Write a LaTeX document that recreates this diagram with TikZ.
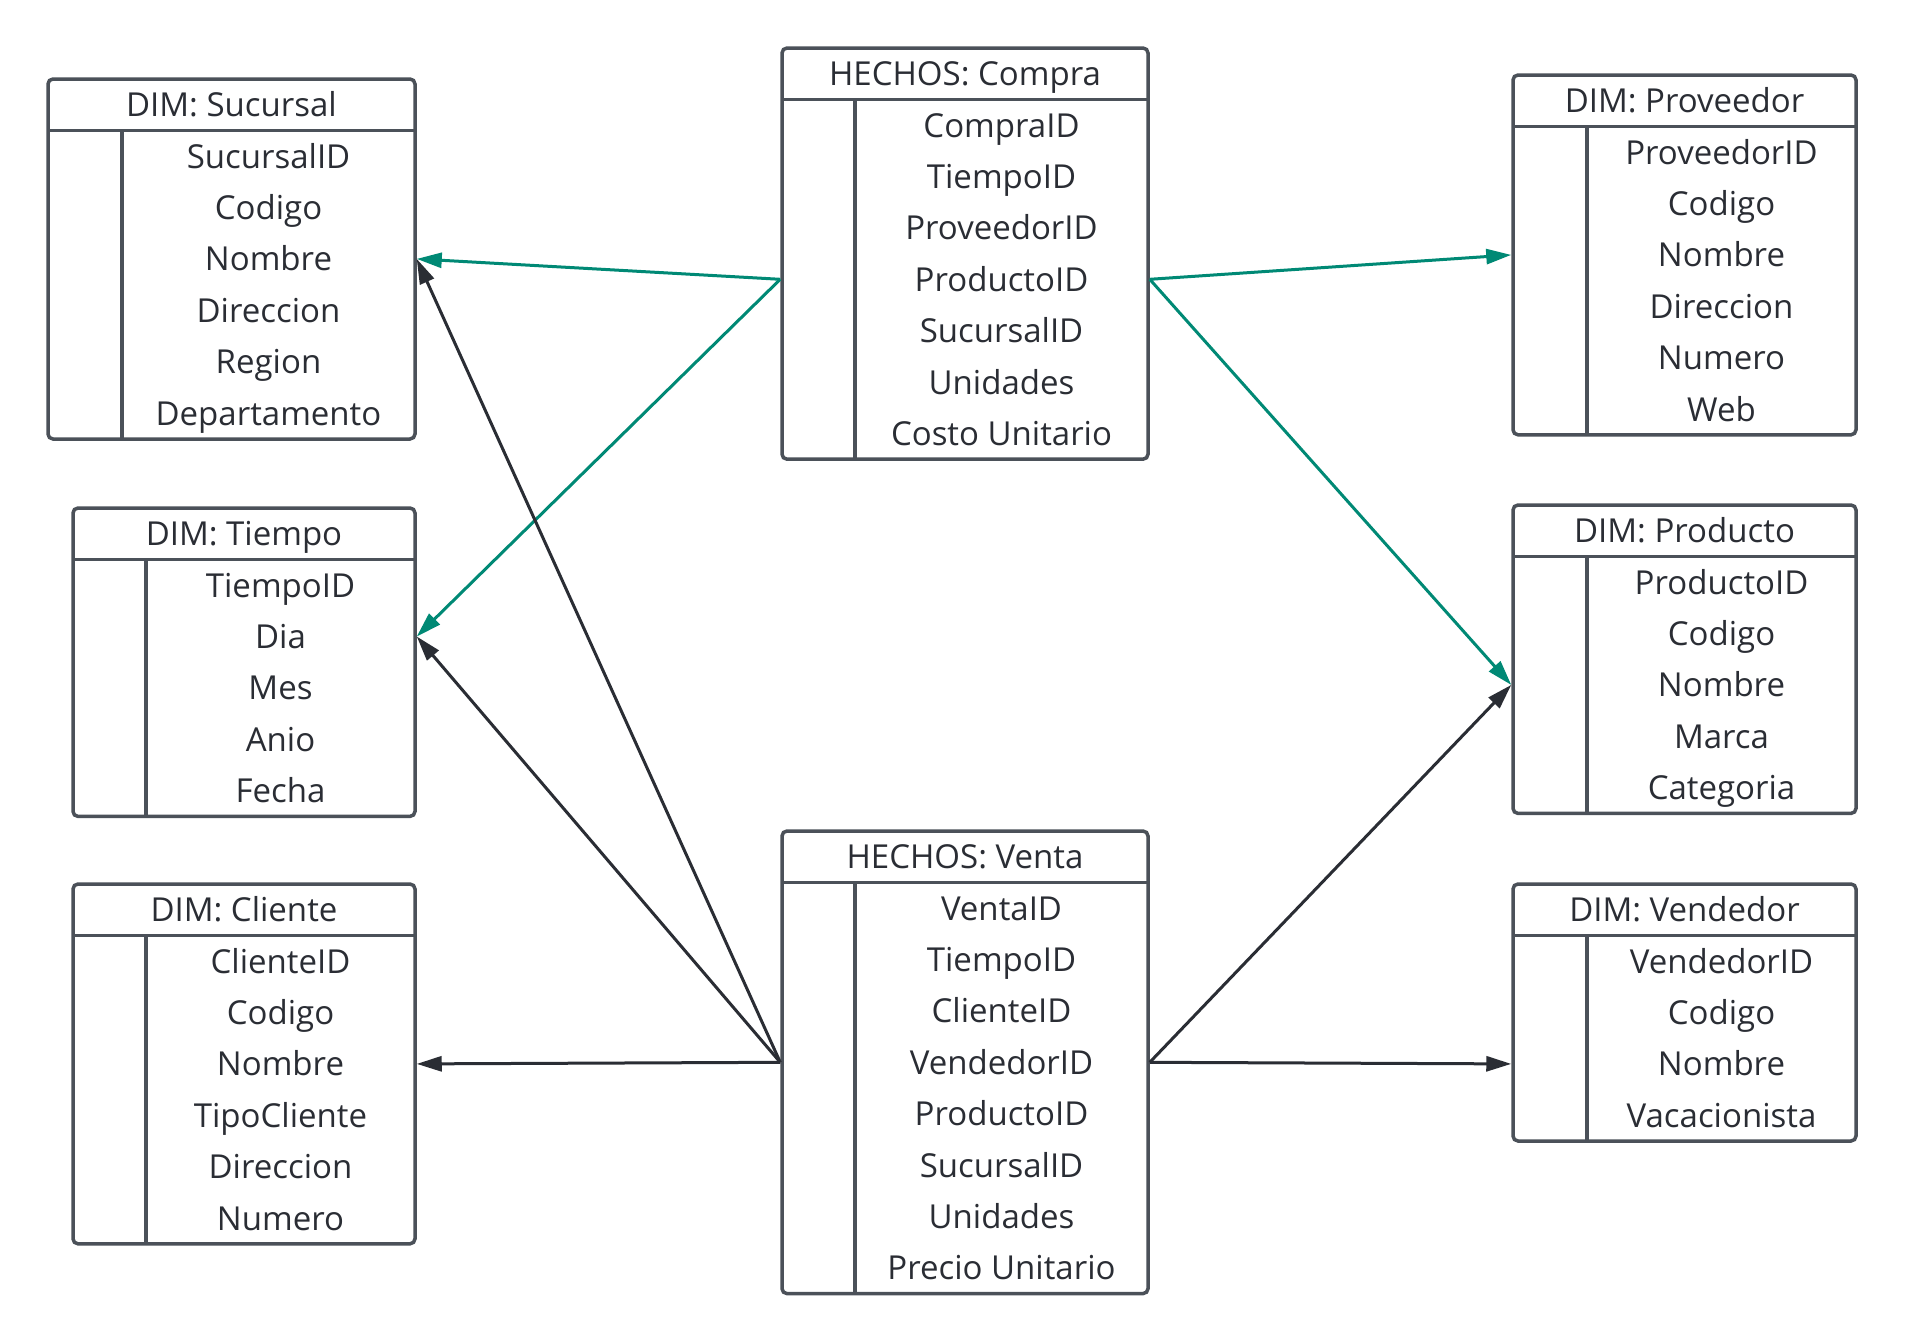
\documentclass[tikz,border=0pt]{standalone}
\usepackage{fontspec}
\setmainfont{Open Sans}
\usetikzlibrary{arrows.meta}
\definecolor{rimgray}{RGB}{75,81,89}
\definecolor{inkdark}{RGB}{42,45,52}
\definecolor{fkteal}{RGB}{0,137,117}
\begin{document}
\begin{tikzpicture}[x=1pt,y=-1pt,
    tbl/.style={draw=rimgray,line width=3.5pt,rounded corners=5pt,inner sep=0pt,fill=white},
    tline/.style={draw=rimgray,line width=3.5pt},
    hdr/.style={inner sep=0pt,text height=24pt,text depth=0pt,text=inkdark,font=\fontsize{33}{40}\selectfont},
    fld/.style={hdr},
    fkc/.style={draw=fkteal,line width=3pt,-{Triangle[length=25pt,width=15pt]}},
    fkv/.style={draw=inkdark,line width=3pt,-{Triangle[length=25pt,width=15pt]}}]
    \path[fill=white] (0,0) rectangle (1905,1341);
    % DIM: Sucursal
    \node[tbl,minimum width=367pt,minimum height=360pt] (suc) at (231.5,259) {};
    \draw[tline] (48,130.4) -- (415,130.4);
    \draw[tline] (122,130.4) -- (122,439);
    \node[hdr] (sucH) at (231.5,104.7) {DIM: Sucursal};
    \node[fld] (suc1) at (268.5,156.1) {SucursalID};
    \node[fld] (suc2) at (268.5,207.5) {Codigo};
    \node[fld] (suc3) at (268.5,258.9) {Nombre};
    \node[fld] (suc4) at (268.5,310.3) {Direccion};
    \node[fld] (suc5) at (268.5,361.7) {Region};
    \node[fld] (suc6) at (268.5,413.1) {Departamento};
    % DIM: Tiempo
    \node[tbl,minimum width=342pt,minimum height=308.4pt] (tie) at (244,662.2) {};
    \draw[tline] (73,559.4) -- (415,559.4);
    \draw[tline] (146,559.4) -- (146,816.4);
    \node[hdr] (tieH) at (244,533.7) {DIM: Tiempo};
    \node[fld] (tie1) at (280.5,585.1) {TiempoID};
    \node[fld] (tie2) at (280.5,636.5) {Dia};
    \node[fld] (tie3) at (280.5,687.9) {Mes};
    \node[fld] (tie4) at (280.5,739.3) {Anio};
    \node[fld] (tie5) at (280.5,790.7) {Fecha};
    % DIM: Cliente
    \node[tbl,minimum width=342pt,minimum height=359.8pt] (cli) at (244,1063.9) {};
    \draw[tline] (73,935.4) -- (415,935.4);
    \draw[tline] (146,935.4) -- (146,1243.8);
    \node[hdr] (cliH) at (244,909.7) {DIM: Cliente};
    \node[fld] (cli1) at (280.5,961.1) {ClienteID};
    \node[fld] (cli2) at (280.5,1012.5) {Codigo};
    \node[fld] (cli3) at (280.5,1063.9) {Nombre};
    \node[fld] (cli4) at (280.5,1115.3) {TipoCliente};
    \node[fld] (cli5) at (280.5,1166.7) {Direccion};
    \node[fld] (cli6) at (280.5,1218.1) {Numero};
    % HECHOS: Compra
    \node[tbl,minimum width=366pt,minimum height=411.2pt] (cmp) at (965,253.6) {};
    \draw[tline] (782,99.4) -- (1148,99.4);
    \draw[tline] (855,99.4) -- (855,459.2);
    \node[hdr] (cmpH) at (965,73.7) {HECHOS: Compra};
    \node[fld] (cmp1) at (1001.5,125.1) {CompraID};
    \node[fld] (cmp2) at (1001.5,176.5) {TiempoID};
    \node[fld] (cmp3) at (1001.5,227.9) {ProveedorID};
    \node[fld] (cmp4) at (1001.5,279.3) {ProductoID};
    \node[fld] (cmp5) at (1001.5,330.7) {SucursalID};
    \node[fld] (cmp6) at (1001.5,382.1) {Unidades};
    \node[fld] (cmp7) at (1001.5,433.5) {Costo Unitario};
    % HECHOS: Venta
    \node[tbl,minimum width=366pt,minimum height=462.6pt] (ven) at (965,1062.3) {};
    \draw[tline] (782,882.4) -- (1148,882.4);
    \draw[tline] (855,882.4) -- (855,1293.6);
    \node[hdr] (venH) at (965,856.7) {HECHOS: Venta};
    \node[fld] (ven1) at (1001.5,908.1) {VentaID};
    \node[fld] (ven2) at (1001.5,959.5) {TiempoID};
    \node[fld] (ven3) at (1001.5,1010.9) {ClienteID};
    \node[fld] (ven4) at (1001.5,1062.3) {VendedorID};
    \node[fld] (ven5) at (1001.5,1113.7) {ProductoID};
    \node[fld] (ven6) at (1001.5,1165.1) {SucursalID};
    \node[fld] (ven7) at (1001.5,1216.5) {Unidades};
    \node[fld] (ven8) at (1001.5,1267.9) {Precio Unitario};
    % DIM: Proveedor
    \node[tbl,minimum width=343pt,minimum height=359.8pt] (prv) at (1684.5,254.9) {};
    \draw[tline] (1513,126.4) -- (1856,126.4);
    \draw[tline] (1587,126.4) -- (1587,434.8);
    \node[hdr] (prvH) at (1684.5,100.7) {DIM: Proveedor};
    \node[fld] (prv1) at (1721.5,152.1) {ProveedorID};
    \node[fld] (prv2) at (1721.5,203.5) {Codigo};
    \node[fld] (prv3) at (1721.5,254.9) {Nombre};
    \node[fld] (prv4) at (1721.5,306.3) {Direccion};
    \node[fld] (prv5) at (1721.5,357.7) {Numero};
    \node[fld] (prv6) at (1721.5,409.1) {Web};
    % DIM: Producto
    \node[tbl,minimum width=343pt,minimum height=308.4pt] (prd) at (1684.5,659.2) {};
    \draw[tline] (1513,556.4) -- (1856,556.4);
    \draw[tline] (1587,556.4) -- (1587,813.4);
    \node[hdr] (prdH) at (1684.5,530.7) {DIM: Producto};
    \node[fld] (prd1) at (1721.5,582.1) {ProductoID};
    \node[fld] (prd2) at (1721.5,633.5) {Codigo};
    \node[fld] (prd3) at (1721.5,684.9) {Nombre};
    \node[fld] (prd4) at (1721.5,736.3) {Marca};
    \node[fld] (prd5) at (1721.5,787.7) {Categoria};
    % DIM: Vendedor
    \node[tbl,minimum width=343pt,minimum height=257pt] (vnd) at (1684.5,1012.5) {};
    \draw[tline] (1513,935.4) -- (1856,935.4);
    \draw[tline] (1587,935.4) -- (1587,1141);
    \node[hdr] (vndH) at (1684.5,909.7) {DIM: Vendedor};
    \node[fld] (vnd1) at (1721.5,961.1) {VendedorID};
    \node[fld] (vnd2) at (1721.5,1012.5) {Codigo};
    \node[fld] (vnd3) at (1721.5,1063.9) {Nombre};
    \node[fld] (vnd4) at (1721.5,1115.3) {Vacacionista};
    % Compra
    \draw[fkc] (cmp.west |- cmp4) -- (suc.east |- suc3);
    \draw[fkc] (cmp.west |- cmp4) -- (tie.east |- tie2);
    \draw[fkc] (cmp.east |- cmp4) -- (prv.west |- prv3);
    \draw[fkc] (cmp.east |- cmp4) -- (prd.west |- prd3);
    % Venta
    \draw[fkv] (ven.west |- ven4) -- (suc.east |- suc3);
    \draw[fkv] (ven.west |- ven4) -- (tie.east |- tie2);
    \draw[fkv] (ven.west |- ven4) -- (cli.east |- cli3);
    \draw[fkv] (ven.east |- ven4) -- (prd.west |- prd3);
    \draw[fkv] (ven.east |- ven4) -- (vnd.west |- vnd3);
\end{tikzpicture}
\end{document}
